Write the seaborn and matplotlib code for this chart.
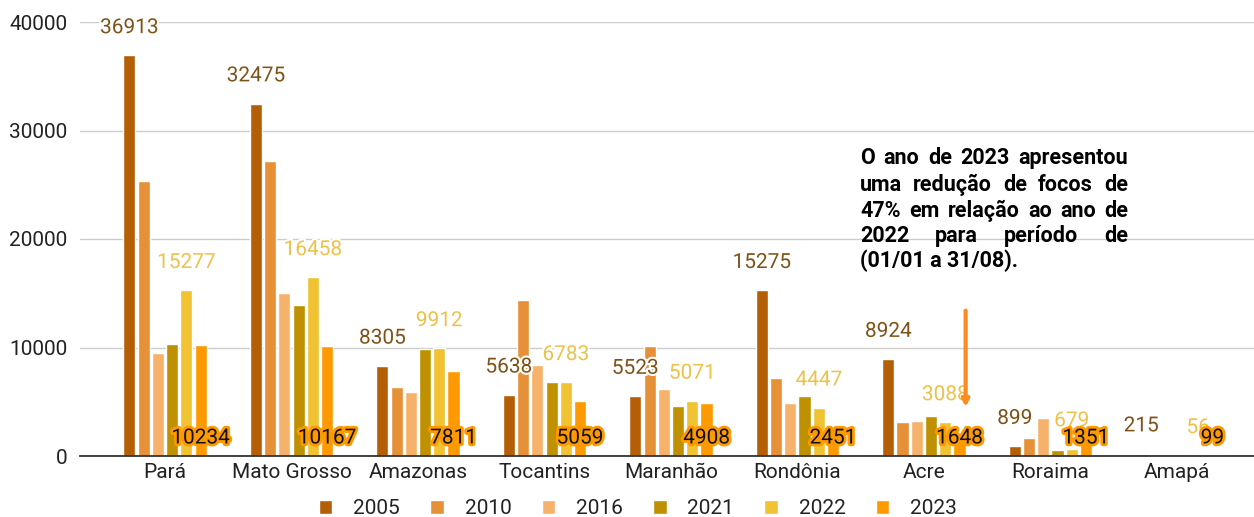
import matplotlib
matplotlib.use("Agg")
import matplotlib.pyplot as plt
import matplotlib.patheffects as pe
import seaborn as sns
import pandas as pd

estados = ["Pará", "Mato Grosso", "Amazonas", "Tocantins", "Maranhão",
           "Rondônia", "Acre", "Roraima", "Amapá"]
anos = ["2005", "2010", "2016", "2021", "2022", "2023"]
v2005 = [36913, 32475, 8305, 5638, 5523, 15275, 8924, 899, 215]
v2010 = [25300, 27200, 6400, 14400, 10100, 7150, 3100, 1700, 0]
v2016 = [9500, 15000, 5900, 8400, 6200, 4900, 3250, 3500, 0]
v2021 = [10300, 13900, 9900, 6850, 4600, 5500, 3650, 550, 0]
v2022 = [15277, 16458, 9912, 6783, 5071, 4447, 3088, 679, 56]
v2023 = [10234, 10167, 7811, 5059, 4908, 2451, 1648, 1351, 99]
cores = ["#B45F06", "#E69138", "#F6B26B", "#BF9000", "#F1C232", "#FF9900"]
yticks = [0, 10000, 20000, 30000, 40000]
nota = ["O ano de 2023 apresentou",
        "uma redução de focos de",
        "47% em relação ao ano de",
        "2022 para período de",
        "(01/01 a 31/08)."]

series = [v2005, v2010, v2016, v2021, v2022, v2023]
rows = []
for ano, vals in zip(anos, series):
    for e, v in zip(estados, vals):
        rows.append({"estado": e, "ano": ano, "focos": v})
df = pd.DataFrame(rows)

sns.set_style("white")
plt.rcParams["font.family"] = ["Roboto", "DejaVu Sans"]

fig = plt.figure(figsize=(12.54, 5.17), dpi=100)
ax = fig.add_axes([80 / 1254, 61 / 517, 1174 / 1254, 434 / 517])

sns.barplot(data=df, x="estado", y="focos", hue="ano", hue_order=anos,
            palette=cores, width=0.675, gap=0.15, ax=ax, saturation=1,
            errorbar=None, zorder=3)

ax.set_ylim(0, 40000)
ax.set_xlim(-0.672, 8.61)
ax.set_yticks(yticks)
ax.set_yticklabels([str(t) for t in yticks])
ax.grid(axis="y", color="#cccccc", linewidth=1, zorder=0)
ax.set_axisbelow(True)
for s in ["left", "right", "top"]:
    ax.spines[s].set_visible(False)
ax.spines["bottom"].set_color("#333333")
ax.spines["bottom"].set_linewidth(1.3)
ax.spines["bottom"].set_zorder(5)
ax.tick_params(axis="y", length=0, pad=9, labelsize=15, labelcolor="#222222")
ax.tick_params(axis="x", length=0, pad=5, labelsize=15, labelcolor="#222222")
ax.set_xlabel("")
ax.set_ylabel("")

# value labels
white = [pe.withStroke(linewidth=3, foreground="white")]
for bar, v in zip(ax.containers[0], v2005):
    ax.annotate(str(v), (bar.get_x() + bar.get_width() / 2, bar.get_height()),
                xytext=(0, 20), textcoords="offset points", ha="center", va="center",
                fontsize=15, color="#7F5217", path_effects=white, zorder=6)
for bar, v in zip(ax.containers[4], v2022):
    ax.annotate(str(v), (bar.get_x() + bar.get_width() / 2, bar.get_height()),
                xytext=(0, 20), textcoords="offset points", ha="center", va="center",
                fontsize=15, color="#EDC24A", path_effects=white, zorder=6)
blend = matplotlib.transforms.blended_transform_factory(ax.transData, ax.transAxes)
for bar, v in zip(ax.containers[5], v2023):
    ax.text(bar.get_x() + bar.get_width() / 2, 18 / 434, str(v), transform=blend,
            ha="center", va="center", fontsize=15, color="#111111", zorder=7,
            path_effects=[pe.withStroke(linewidth=4, foreground="#FF9900")])

# arrow
ax.annotate("", xy=(6.33, 4500), xytext=(6.33, 13400),
            arrowprops=dict(arrowstyle="-|>", color="#FF8A1F", lw=3,
                            mutation_scale=10, shrinkA=0, shrinkB=0),
            zorder=8)

# legend
handles, labels = ax.get_legend_handles_labels()
if ax.get_legend() is not None:
    ax.get_legend().remove()
fig.legend(handles, labels, loc="center", bbox_to_anchor=(638 / 1254, 8 / 517),
           ncol=6, frameon=False, fontsize=15, handlelength=0.65, handleheight=0.65,
           handletextpad=1.0, columnspacing=1.45, labelcolor="#222222")

# justified note
fig.canvas.draw()
r = fig.canvas.get_renderer()
x0, x1 = 860, 1128
ys = [158, 185, 211, 236, 261]
for i, (line, y) in enumerate(zip(nota, ys)):
    words = line.split(" ")
    if i == len(nota) - 1:
        fig.text(x0 / 1254, 1 - y / 517, line, fontsize=15.5, fontweight="bold",
                 ha="left", va="center", color="black")
        continue
    ts = []
    widths = []
    for w in words:
        t = fig.text(0, 1 - y / 517, w, fontsize=15.5, fontweight="bold",
                     ha="left", va="center", color="black")
        ts.append(t)
        widths.append(t.get_window_extent(r).width)
    gap = (x1 - x0 - sum(widths)) / (len(words) - 1)
    x = x0
    for t, wd in zip(ts, widths):
        t.set_x(x / 1254)
        x += wd + gap

fig.savefig("out.png", dpi=100)
